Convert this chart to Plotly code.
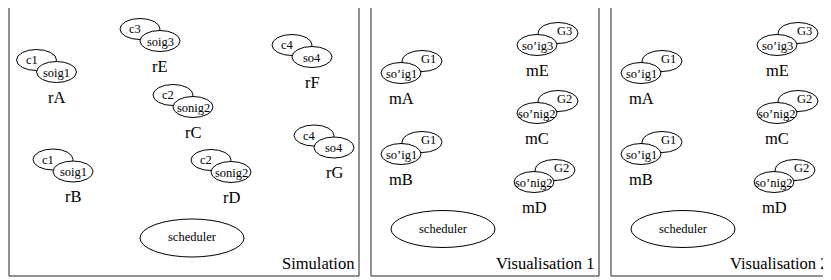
import plotly.graph_objects as go

# ---------------- data (labels) ----------------
panel_titles = ["Simulation", "Visualisation 1", "Visualisation 2"]

sim_regions = ["rA", "rE", "rF", "rC", "rG", "rB", "rD"]
sim_back = ["c1", "c3", "c4", "c2", "c4", "c1", "c2"]
sim_front = ["soig1", "soig3", "so4", "sonig2", "so4", "soig1", "sonig2"]

vis_regions = ["mA", "mE", "mC", "mB", "mD"]
vis_back = ["G1", "G3", "G2", "G1", "G2"]
vis_front = ["so’ig1", "so’ig3", "so’nig2", "so’ig1", "so’nig2"]

scheduler_label = "scheduler"

# ---------------- layout (positions in screen pixel space) ----------------
W, H = 831, 280
PAGE_OFF = 8  # default body margin of the html page
panel_boxes = [(9, 6, 359, 276), (371, 6, 599, 276), (611, 6, 851, 276)]
title_pos = [(356, 263), (596, 263), (830, 263)]

sim_front_xy = [(56.5, 72), (160, 41), (312, 57), (193, 107), (334, 147.5), (73, 171.5), (231, 172)]
sim_back_off = (-20, -12)
sim_back_text_off = (-5, 0)

vis_front_xy = [(401, 73), (537, 45), (537, 113), (401, 154), (534, 182)]
vis_back_off = (21, -12)
vis_back_text_off = (6, -2)
vis_shift = [0, 240]

label_dy = 25
RX, RY = 20, 10.5
sched_sim = (192, 238, 52, 19)
sched_vis = (443, 229, 52, 18.5)

FONT = "Liberation Serif, Times New Roman, Times, serif"
small = 12.5
big = 16.5
sched_size = 12.5

shapes = []
annotations = []


def ellipse(cx, cy, rx, ry, fill="rgba(0,0,0,0)"):
    shapes.append(dict(type="circle", xref="x", yref="y",
                       x0=cx - rx, x1=cx + rx, y0=cy - ry, y1=cy + ry,
                       line=dict(color="black", width=1), fillcolor=fill))


def text(x, y, s, size, xanchor="center"):
    annotations.append(dict(x=x, y=y, xref="x", yref="y", text=s, showarrow=False,
                            xanchor=xanchor, yanchor="middle",
                            font=dict(family=FONT, size=size, color="black")))


# panel boxes
for (x0, y0, x1, y1) in panel_boxes:
    shapes.append(dict(type="rect", xref="x", yref="y", x0=x0, x1=x1, y0=y0, y1=y1,
                       line=dict(color="#222", width=1), fillcolor="white"))

# simulation panel
for name, back, front, (fx, fy) in zip(sim_regions, sim_back, sim_front, sim_front_xy):
    bx, by = fx + sim_back_off[0], fy + sim_back_off[1]
    ellipse(bx, by, RX, RY)
    ellipse(fx, fy, RX, RY, fill="white")
    text(bx + sim_back_text_off[0], by + sim_back_text_off[1], back, small)
    text(fx, fy + 0.5, front, small)
    text(fx, fy + label_dy, name, big)

cx, cy, rx, ry = sched_sim
ellipse(cx, cy, rx, ry)
text(cx, cy - 1, scheduler_label, sched_size)

# visualisation panels
for dx in vis_shift:
    for name, back, front, (fx, fy) in zip(vis_regions, vis_back, vis_front, vis_front_xy):
        fx2 = fx + dx
        bx, by = fx2 + vis_back_off[0], fy + vis_back_off[1]
        ellipse(bx, by, RX, RY)
        ellipse(fx2, fy, RX, RY, fill="white")
        text(bx + vis_back_text_off[0], by + vis_back_text_off[1], back, small)
        text(fx2, fy + 0.5, front, small)
        text(fx2, fy + label_dy, name, big)
    cx, cy, rx, ry = sched_vis
    ellipse(cx + dx, cy, rx, ry)
    text(cx + dx, cy, scheduler_label, sched_size)

# panel titles
for t, (x, y) in zip(panel_titles, title_pos):
    text(x, y, t, big, xanchor="right")

fig = go.Figure()
fig.add_trace(go.Scatter(x=[PAGE_OFF, PAGE_OFF + W], y=[PAGE_OFF, PAGE_OFF + H], mode="markers",
                         marker=dict(opacity=0), hoverinfo="skip", showlegend=False))
fig.update_layout(
    width=W, height=H,
    margin=dict(l=0, r=0, t=0, b=0),
    paper_bgcolor="white", plot_bgcolor="white",
    font=dict(family=FONT),
    xaxis=dict(range=[PAGE_OFF, PAGE_OFF + W], visible=False, fixedrange=True),
    yaxis=dict(range=[PAGE_OFF + H, PAGE_OFF], visible=False, fixedrange=True),
    shapes=shapes, annotations=annotations, showlegend=False,
)
fig.write_html("out.html")
